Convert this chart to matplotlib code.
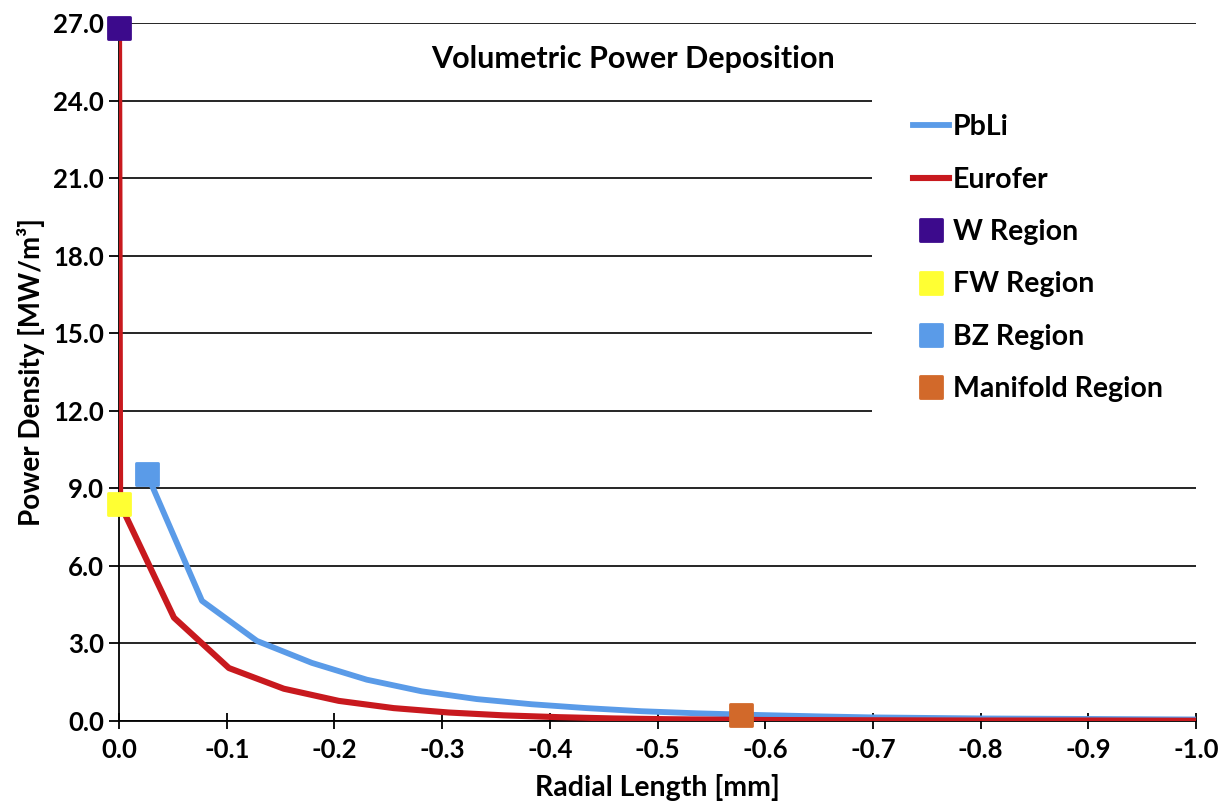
# Volumetric power deposition chart
import matplotlib
matplotlib.use("Agg")
import matplotlib.pyplot as plt
from matplotlib.markers import MarkerStyle
from matplotlib.patches import Rectangle

plt.rcParams['font.family'] = ['Lato', 'DejaVu Sans']
plt.rcParams['font.weight'] = 'bold'

# PbLi curve
pbli_x = [-0.026, -0.077, -0.128, -0.179, -0.230, -0.281, -0.332, -0.383, -0.434,
          -0.485, -0.536, -0.587, -0.65, -0.70, -0.80, -0.90, -1.00]
pbli_y = [9.55, 4.65, 3.10, 2.25, 1.60, 1.15, 0.85, 0.65, 0.50,
          0.38, 0.30, 0.24, 0.18, 0.14, 0.10, 0.08, 0.06]

# Eurofer curve
euro_x = [0.0, -0.001, -0.051, -0.102, -0.153, -0.204, -0.255, -0.306, -0.357,
          -0.408, -0.459, -0.510, -0.60, -0.70, -0.80, -0.90, -1.00]
euro_y = [26.8, 8.4, 4.0, 2.05, 1.25, 0.78, 0.50, 0.33, 0.22,
          0.15, 0.10, 0.07, 0.04, 0.03, 0.02, 0.02, 0.01]

# region markers
regions = ["W Region", "FW Region", "BZ Region", "Manifold Region"]
region_x = [0.0, 0.0, -0.026, -0.577]
region_y = [26.8, 8.4, 9.55, 0.22]
region_col = ["#3c0a8c", "#ffff33", "#5a9be8", "#d2692a"]

y_ticks = [0, 3, 6, 9, 12, 15, 18, 21, 24, 27]
x_ticks = [0.0, -0.1, -0.2, -0.3, -0.4, -0.5, -0.6, -0.7, -0.8, -0.9, -1.0]

fig = plt.figure(figsize=(12.31, 8.05), dpi=100)
ax = fig.add_axes([0.0967, 0.1043, 0.875, 0.867])

ax.plot(pbli_x, pbli_y, color="#5a9be8", lw=4.2, label="PbLi", zorder=3)
ax.plot(euro_x, euro_y, color="#c8191e", lw=4.4, label="Eurofer", zorder=3)
sq = MarkerStyle("s", joinstyle="round")
for name, xx, yy, c in zip(regions, region_x, region_y, region_col):
    ax.plot([xx], [yy], linestyle="none", marker=sq, markersize=16,
            markeredgewidth=2, color=c, label=name, zorder=5, clip_on=False)

ax.set_xlim(0, -1.0)
ax.set_ylim(0, 27)
ax.set_yticks(y_ticks)
ax.set_yticklabels(["%.1f" % v for v in y_ticks])
ax.set_xticks(x_ticks)
ax.set_xticklabels(["%.1f" % v if v != 0 else "0.0" for v in x_ticks])
ax.yaxis.grid(True, color="black", lw=1.2)
ax.set_axisbelow(True)

# white block behind the legend hides the gridlines there
ax.add_patch(Rectangle((0.699, 0.43), 0.35, 0.475, transform=ax.transAxes,
                       facecolor="white", edgecolor="none", zorder=1, clip_on=False))

for s in ["top", "right"]:
    ax.spines[s].set_visible(False)
ax.spines["left"].set_linewidth(1.3)
ax.spines["bottom"].set_linewidth(1.3)

ax.tick_params(axis="y", direction="out", length=7, width=1.3, labelsize=18.5, pad=4)
ax.tick_params(axis="x", direction="inout", length=12, width=1.3, labelsize=18.5, pad=6)

ax.set_xlabel("Radial Length [mm]", fontsize=20.5, fontweight="bold", labelpad=9)
ax.set_ylabel("Power Density [MW/m³]", fontsize=20, fontweight="bold", labelpad=6)

ax.text(-0.477, 25.6, "Volumetric Power Deposition", fontsize=22,
        fontweight="bold", ha="center", va="center")

ax.legend(loc="upper left", bbox_to_anchor=(0.727, 0.886), frameon=False,
          fontsize=20.5, labelspacing=0.93, handlelength=1.25, handletextpad=0.12,
          borderaxespad=0, markerscale=0.95)

plt.savefig("out.png", dpi=100)
